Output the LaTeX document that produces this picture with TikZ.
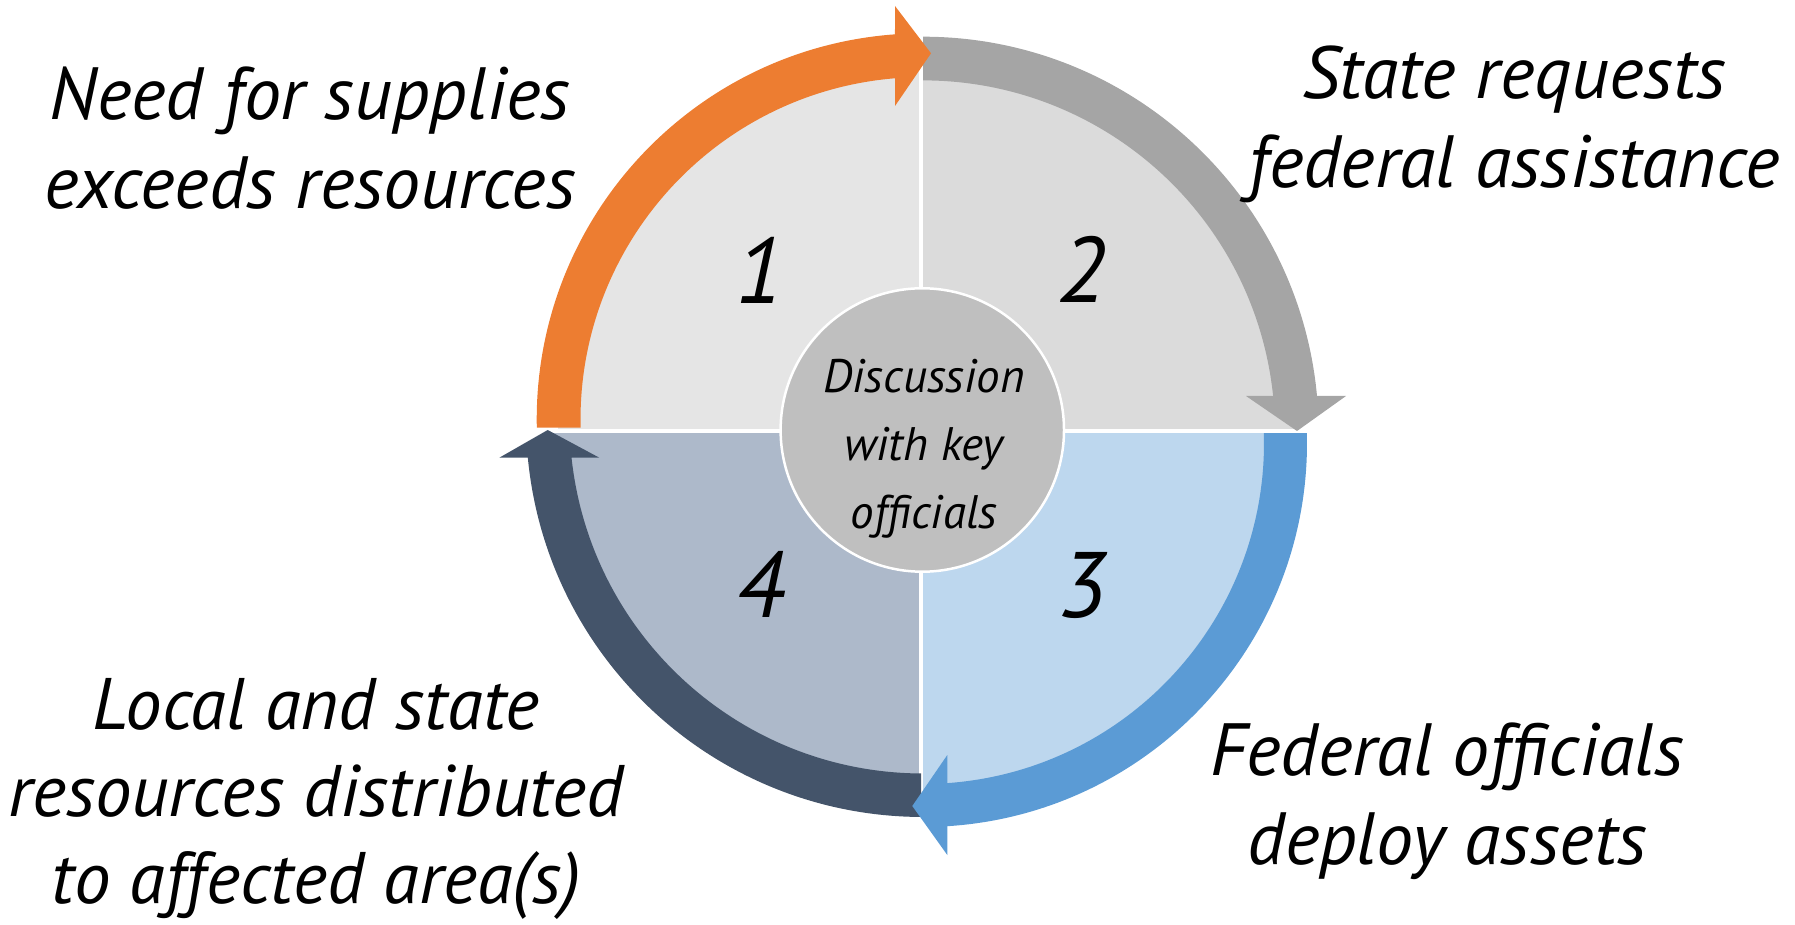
\documentclass[tikz,border=0pt]{standalone}
\usepackage{fontspec}
\setmainfont{PT Sans}
\usetikzlibrary{calc}
\definecolor{cOrange}{HTML}{ED7D31}
\definecolor{cGray}{HTML}{A5A5A5}
\definecolor{cBlue}{HTML}{5B9BD5}
\definecolor{cDark}{HTML}{44546A}
\definecolor{qOne}{HTML}{E5E5E5}
\definecolor{qTwo}{HTML}{DBDBDB}
\definecolor{qThree}{HTML}{BDD7EE}
\definecolor{qFour}{HTML}{ADB9CA}
\definecolor{hubfill}{HTML}{BFBFBF}
\newcommand{\stk}[1]{\vtop{\halign{\hfil##\hfil\cr#1\crcr}}}
\begin{document}
\begin{tikzpicture}[x=1pt,y=1pt,
  lab/.style={font=\fontsize{74}{89}\selectfont\itshape, inner sep=0pt, anchor=base},
  labtight/.style={font=\fontsize{73}{87}\selectfont\itshape, inner sep=0pt, anchor=base},
  hubtext/.style={font=\fontsize{47}{68}\selectfont\itshape, inner sep=0pt, anchor=base},
  num/.style={font=\fontsize{93}{100}\selectfont\itshape, inner sep=0pt, anchor=base},
  divider/.style={white, line width=4pt}]
\useasboundingbox (0,0) rectangle (1795,924);
\coordinate (C) at (921.3,492.7);
\coordinate (O1) at (923,504.4);
\coordinate (O2) at (923,491.6);
\coordinate (O3) at (923,481);
\coordinate (O4) at (923,504);
% quadrant fills
\begin{scope}\clip (C) rectangle (0,924); \fill[qOne] (O1) circle (365);\end{scope}
\begin{scope}\clip (C) rectangle (1795,924); \fill[qTwo] (O2) circle (373);\end{scope}
\begin{scope}\clip (C) rectangle (1795,0); \fill[qThree] (O3) circle (362);\end{scope}
\begin{scope}\clip (C) rectangle (0,0); \fill[qFour] (O4) circle (375);\end{scope}
% dividers
\draw[divider] (921.3,60) -- (921.3,900);
\draw[divider] (520,492.7) -- (1330,492.7);
% arrows
\fill[cGray] ($(O2)+(90:395.7)$) arc[start angle=90,end angle=5.28,radius=395.7]
  -- (1346,528) -- (1297,493) -- (1246,528)
  -- ($(O2)+(5.94:352)$) arc[start angle=5.94,end angle=90,radius=352] -- cycle;
\fill[cDark] ($(O4)+(269.7:397)$) arc[start angle=269.7,end angle=185.45,radius=397]
  -- (499.3,466.3) -- (547.7,494) -- (599.3,466.3)
  -- ($(O4)+(186.12:353.5)$) arc[start angle=186.12,end angle=269.7,radius=353.5] -- cycle;
\fill[cBlue] ($(O3)+(1.49:384)$) arc[start angle=1.49,end angle=-86.37,radius=384]
  -- (947.3,69) -- (912.3,118) -- (947.3,169)
  -- ($(O3)+(-85.91:341)$) arc[start angle=-85.91,end angle=1.68,radius=341] -- cycle;
\fill[cOrange] ($(O1)+(181.2:386.3)$) arc[start angle=181.2,end angle=94.16,radius=386.3]
  -- (895,918) -- (931,870.7) -- (895,818)
  -- ($(O1)+(94.69:342.5)$) arc[start angle=94.69,end angle=181.36,radius=342.5] -- cycle;
% hub
\node[circle, fill=hubfill, draw=white, line width=2.5pt, minimum size=283.4pt, inner sep=0pt] (hub) at (922.3,494) {};
\node[hubtext] (hubtxt) at (924,531.3) {\stk{Discussion\cr with key\cr officials}};
% numbers
\node[num] (n1) at (760,620.7) {1};
\node[num] (n2) at (1082,621) {2};
\node[num] (n3) at (1083,306) {3};
\node[num] (n4) at (761,306) {4};
% labels
\node[lab] (tl) at (310,804.7) {\stk{Need for supplies\cr exceeds resources}};
\node[lab] (tr) at (1514,825) {\stk{State requests\cr federal assistance}};
\node[lab] (br) at (1447,149) {\stk{Federal officials\cr deploy assets}};
\node[labtight] (bl) at (316,195) {\stk{Local and state\cr resources distributed\cr to affected area(s)}};
\end{tikzpicture}
\end{document}
